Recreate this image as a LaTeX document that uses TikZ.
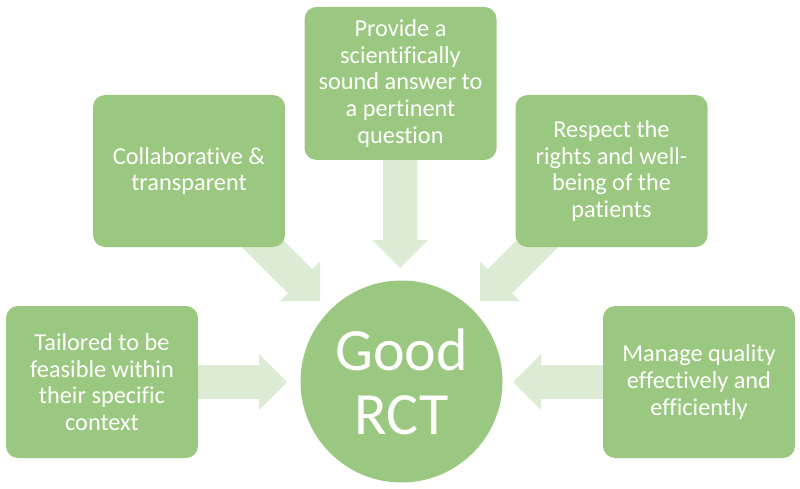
\documentclass[tikz,border=0pt]{standalone}
\usepackage{fontspec}
\setmainfont{Carlito}[Ligatures=NoCommon]
\usetikzlibrary{calc}
\definecolor{boxgreen}{HTML}{9BC880}
\definecolor{arrowgreen}{HTML}{DCEBD3}
\newcommand\blockarrow[2]{%
  \path ($(#2)!28pt!(#1)$) coordinate (hb);
  \fill[arrowgreen] ($(#1)!17pt!90:(#2)$) -- ($(hb)!17pt!90:(#2)$) -- ($(hb)!28pt!90:(#2)$) -- (#2)
    -- ($(hb)!28pt!-90:(#2)$) -- ($(hb)!17pt!-90:(#2)$) -- ($(#1)!17pt!-90:(#2)$) -- cycle;}
\tikzset{
  gbox/.style={fill=boxgreen, rounded corners=12pt, minimum width=192pt, minimum height=152pt,
    align=center, text=white, inner sep=0pt,
    font=\fontsize{24.3pt}{26.7pt}\selectfont},
  gcircle/.style={circle, fill=boxgreen, minimum size=202pt, inner sep=0pt, align=center, text=white,
    font=\fontsize{60pt}{64pt}\selectfont}
}
\begin{document}
\begin{tikzpicture}[x=1pt,y=-1pt]
\useasboundingbox (0,0) rectangle (800,489);
% anchor coordinates
\coordinate (tlc) at (240,221);
\coordinate (trc) at (560,221);
\coordinate (tipTL) at (320,301);
\coordinate (tipTR) at (480,301);
\coordinate (tipT) at (400,268);
\coordinate (tipL) at (287,382);
\coordinate (tipR) at (513,382);
\coordinate (tcs) at (400,158);
\coordinate (bls) at (196,382);
\coordinate (brs) at (605,382);
% arrows (behind boxes)
\blockarrow{tlc}{tipTL}
\blockarrow{trc}{tipTR}
\blockarrow{tcs}{tipT}
\blockarrow{bls}{tipL}
\blockarrow{brs}{tipR}
% boxes
\node[gbox] (tl) at (189,171) {Collaborative \&\\transparent};
\node[gbox, minimum height=153pt] (tc) at (400.5,83.5) {Provide a\\scientifically\\sound answer to\\a pertinent\\question};
\node[gbox] (tr) at (611.5,171) {Respect the\\rights and well-\\being of the\\patients};
\node[gbox] (bl) at (102,382) {Tailored to be\\feasible within\\their specific\\context};
\node[gbox] (br) at (699,382) {Manage quality\\effectively and\\efficiently};
\node[gcircle] (c) at (401.5,381.5) {Good\\RCT};
\end{tikzpicture}
\end{document}
